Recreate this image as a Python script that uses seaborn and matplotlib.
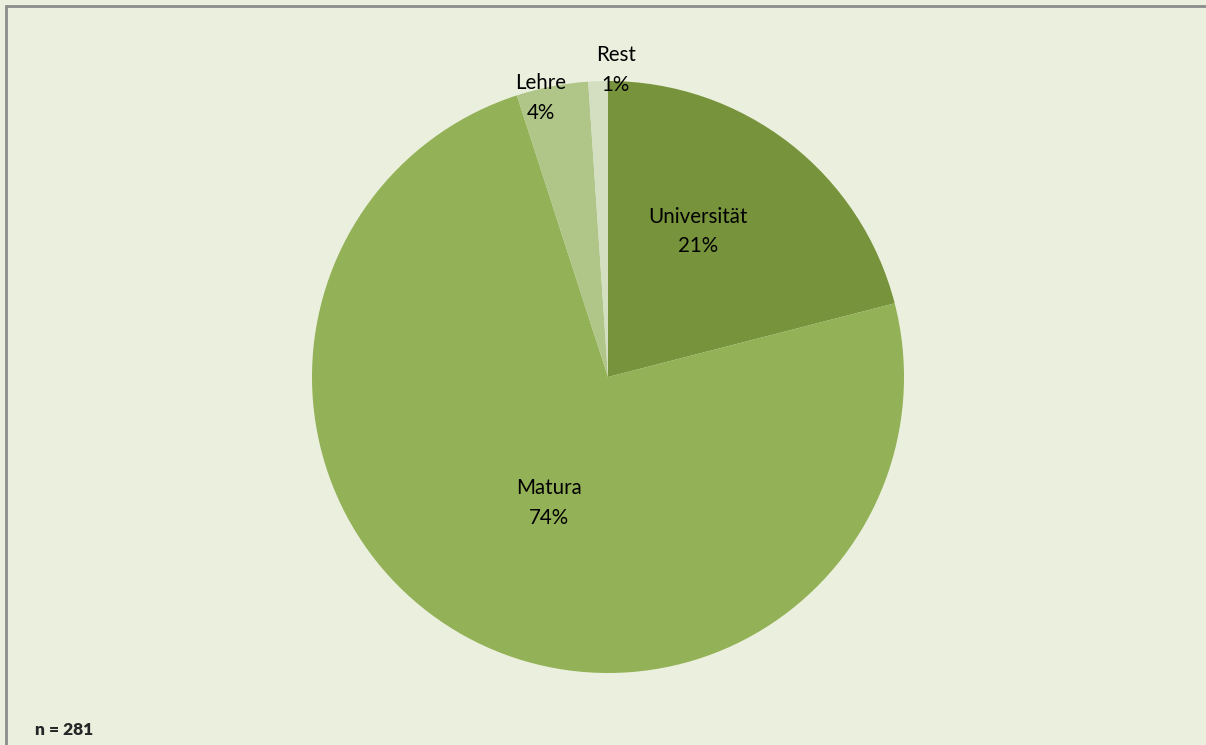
import seaborn as sns
import matplotlib.pyplot as plt
from matplotlib.lines import Line2D

# data (counts, n = 281)
categories = ["Universität", "Matura", "Lehre", "Rest"]
counts = [59, 208, 11, 3]
percent_labels = ["21%", "74%", "4%", "1%"]

colors = ["#77933c", "#93b156", "#afc688", "#d3dfc0"]
# label anchor positions in pie units (radius = 1)
label_xy = [(0.304, 0.492), (-0.199, -0.425), (-0.226, 0.943), (0.027, 1.037)]

sns.set_theme(style="white")
plt.rcParams["font.family"] = ["Lato", "DejaVu Sans"]

W, H = 1206, 745
fig = plt.figure(figsize=(W / 100, H / 100), dpi=100)
fig.patch.set_facecolor("#ebf0de")
fig.patch.set_linewidth(0)

# square axes holding the pie
cx, cy, r = 608, 377, 296
ax = fig.add_axes([(cx - r) / W, (H - cy - r) / H, 2 * r / W, 2 * r / H])
ax.set_facecolor("none")

wedges, _ = ax.pie(counts, colors=colors, startangle=90, counterclock=False,
                   wedgeprops=dict(linewidth=0), radius=1)
ax.set_xlim(-1, 1)
ax.set_ylim(-1, 1)
ax.axis("off")

for cat, pct, (lx, ly) in zip(categories, percent_labels, label_xy):
    ax.text(lx, ly, f"{cat}\n{pct}", ha="center", va="center", fontsize=14.8,
            color="black", linespacing=1.6, clip_on=False)

fig.text(35 / W, 1 - 730 / H, "n = 281", fontsize=12.5, fontweight="heavy",
         ha="left", va="center")

# outer frame, only top and left edges visible
frame = "#8c8c8c"
fig.add_artist(Line2D([6 / W, 1.0], [1 - 6 / H, 1 - 6 / H], color=frame,
                      linewidth=2, transform=fig.transFigure))
fig.add_artist(Line2D([6 / W, 6 / W], [0.0, 1 - 6 / H], color=frame,
                      linewidth=2, transform=fig.transFigure))

fig.savefig("out.png", dpi=100, facecolor=fig.get_facecolor(), edgecolor="none")
